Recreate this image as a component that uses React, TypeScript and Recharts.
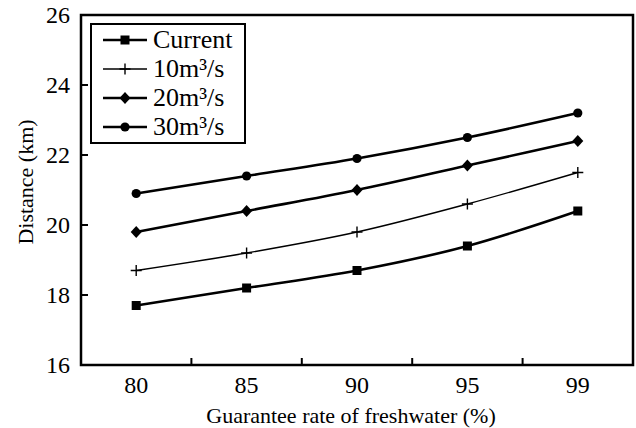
import { LineChart, Line, XAxis, YAxis, ReferenceArea, Legend } from "recharts";

// Freshwater guarantee rate (%) on the x axis, distance (km) on the y axis.
const rates = ["80", "85", "90", "95", "99"];
const current = [17.7, 18.2, 18.7, 19.4, 20.4];
const flow10 = [18.7, 19.2, 19.8, 20.6, 21.5];
const flow20 = [19.8, 20.4, 21.0, 21.7, 22.4];
const flow30 = [20.9, 21.4, 21.9, 22.5, 23.2];
const yTicks = [16, 18, 20, 22, 24, 26];

const FONT = '"Liberation Serif", "DejaVu Serif", "Times New Roman", serif';
const INK = "#000";

type Marker = "square" | "plus" | "diamond" | "circle";

const SERIES: { key: string; name: string; marker: Marker; width: number }[] = [
  { key: "current", name: "Current", marker: "square", width: 2.6 },
  { key: "q10", name: "10m³/s", marker: "plus", width: 1.4 },
  { key: "q20", name: "20m³/s", marker: "diamond", width: 2.6 },
  { key: "q30", name: "30m³/s", marker: "circle", width: 2.6 },
];

const data = rates.map((rate, i) => ({
  pos: i + 1,
  rate,
  current: current[i],
  q10: flow10[i],
  q20: flow20[i],
  q30: flow30[i],
}));

// labels sit on whole slots, tick marks go on the half-steps between them
const xTicks = rates.flatMap((_, i) => (i === 0 ? [1] : [i + 0.5, i + 1]));

function MarkerGlyph({ kind, cx, cy }: { kind: Marker; cx: number; cy: number }) {
  switch (kind) {
    case "square":
      return <rect x={cx - 4.5} y={cy - 4.5} width={9} height={9} fill={INK} />;
    case "plus":
      return (
        <path
          d={`M${cx - 5.5},${cy}H${cx + 5.5}M${cx},${cy - 5.5}V${cy + 5.5}`}
          stroke={INK}
          strokeWidth={1.4}
          fill="none"
        />
      );
    case "diamond":
      return (
        <path
          d={`M${cx},${cy - 6}L${cx + 5.5},${cy}L${cx},${cy + 6}L${cx - 5.5},${cy}Z`}
          fill={INK}
        />
      );
    default:
      return <circle cx={cx} cy={cy} r={4.6} fill={INK} />;
  }
}

function XTick({ x, y, payload }: any) {
  const v = payload.value as number;
  if (Number.isInteger(v)) {
    return (
      <text
        x={x}
        y={y + 28}
        textAnchor="middle"
        style={{ fontFamily: FONT, fontSize: 24 }}
        fill={INK}
      >
        {rates[v - 1]}
      </text>
    );
  }
  // inward tick between two categories
  return <line x1={x} y1={y} x2={x} y2={y - 7} stroke={INK} strokeWidth={2} />;
}

function YTick({ x, y, payload }: any) {
  return (
    <g>
      <line x1={x} y1={y} x2={x + 7} y2={y} stroke={INK} strokeWidth={2} />
      <text
        x={x - 11}
        y={y}
        dy="0.35em"
        textAnchor="end"
        style={{ fontFamily: FONT, fontSize: 24 }}
        fill={INK}
      >
        {payload.value}
      </text>
    </g>
  );
}

function YTitle({ viewBox }: any) {
  const cx = viewBox.x + 33;
  const cy = viewBox.y + viewBox.height / 2 - 8;
  return (
    <text
      x={cx}
      y={cy}
      transform={`rotate(-90, ${cx}, ${cy})`}
      textAnchor="middle"
      style={{ fontFamily: FONT, fontSize: 22 }}
      fill={INK}
    >
      Distance (km)
    </text>
  );
}

function XTitle({ viewBox }: any) {
  return (
    <text
      x={viewBox.x + viewBox.width / 2 - 6}
      y={viewBox.y + viewBox.height - 5}
      textAnchor="middle"
      style={{ fontFamily: FONT, fontSize: 22 }}
      fill={INK}
    >
      Guarantee rate of freshwater (%)
    </text>
  );
}

function LegendBox({ payload }: any) {
  const entries = [...(payload ?? [])].sort(
    (a: any, b: any) =>
      SERIES.findIndex((s) => s.key === a.dataKey) - SERIES.findIndex((s) => s.key === b.dataKey)
  );
  return (
    <div
      style={{
        border: `2px solid ${INK}`,
        background: "#fff",
        padding: "0 12px 1px 11px",
        fontFamily: FONT,
        fontSize: 26,
        color: INK,
      }}
    >
      {entries.map((entry: any) => {
        const s = SERIES.find((d) => d.key === entry.dataKey) ?? SERIES[0];
        return (
          <div key={s.key} style={{ display: "flex", alignItems: "center", height: 29 }}>
            <svg width={44} height={16} style={{ marginRight: 6 }}>
              <line x1={0} y1={8} x2={44} y2={8} stroke={INK} strokeWidth={s.width} />
              <MarkerGlyph kind={s.marker} cx={22} cy={8} />
            </svg>
            <span style={{ lineHeight: "29px", whiteSpace: "nowrap" }}>{s.name}</span>
          </div>
        );
      })}
    </div>
  );
}

export default function App() {
  return (
    <div style={{ position: "absolute", left: 0, top: 0, background: "#fff" }}>
      <LineChart
        width={636}
        height={428}
        data={data}
        margin={{ top: 15, right: 3, bottom: 0, left: 0 }}
      >
        <XAxis
          dataKey="pos"
          type="number"
          domain={[0.5, 5.5]}
          ticks={xTicks}
          interval={0}
          height={63}
          axisLine={false}
          tickLine={false}
          tickSize={0}
          tickMargin={0}
          tick={<XTick />}
          label={XTitle}
        />
        <YAxis
          type="number"
          domain={[16, 26]}
          ticks={yTicks}
          interval={0}
          width={81}
          axisLine={false}
          tickLine={false}
          tickSize={0}
          tickMargin={0}
          tick={<YTick />}
          label={YTitle}
        />
        <ReferenceArea
          x1={0.5}
          x2={5.5}
          y1={16}
          y2={26}
          fill="none"
          stroke={INK}
          strokeWidth={2.5}
          fillOpacity={0}
        />
        {SERIES.map((s) => (
          <Line
            key={s.key}
            dataKey={s.key}
            name={s.name}
            type="monotone"
            stroke={INK}
            strokeWidth={s.width}
            isAnimationActive={false}
            dot={(p: any) => (
              <MarkerGlyph key={`${s.key}-${p.index}`} kind={s.marker} cx={p.cx} cy={p.cy} />
            )}
            activeDot={false}
          />
        ))}
        <Legend
          layout="horizontal"
          verticalAlign="middle"
          align="center"
          content={<LegendBox />}
          wrapperStyle={{ left: 90, top: 23, width: "auto", height: "auto" }}
        />
      </LineChart>
    </div>
  );
}
